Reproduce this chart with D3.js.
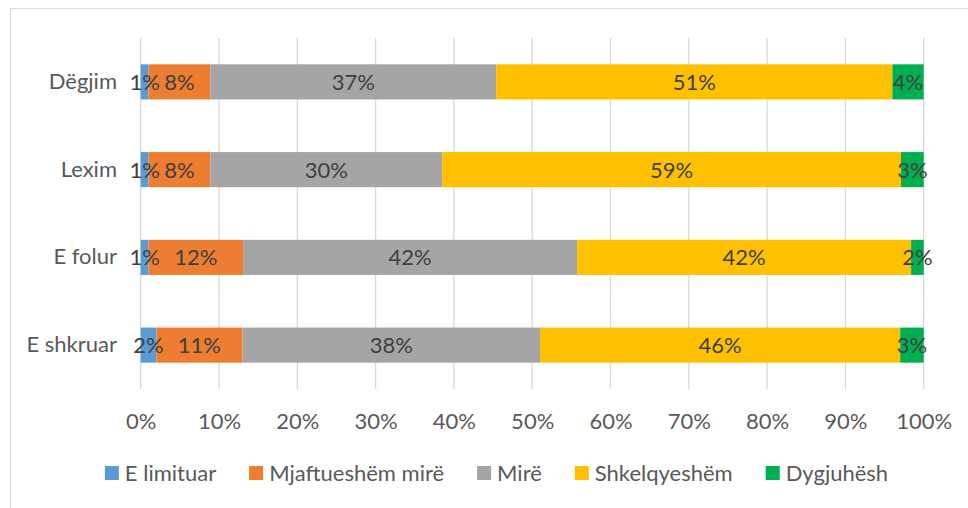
<!DOCTYPE html>
<html><head><meta charset="utf-8">
<script src="https://cdn.jsdelivr.net/npm/d3@7"></script>
<style>
html,body{margin:0;padding:0;background:#fff;}
svg{display:block;font-family:Lato,"Open Sans",sans-serif;}
</style></head>
<body>
<svg id="chart" width="968" height="508"></svg>
<script>
const categories = ["Dëgjim", "Lexim", "E folur", "E shkruar"];
const seriesNames = ["E limituar", "Mjaftueshëm mirë", "Mirë", "Shkelqyeshëm", "Dygjuhësh"];
const seriesColors = ["#5b9bd5", "#ed7d31", "#a5a5a5", "#ffc000", "#00b050"];
const eLimituar    = [1.0, 1.0, 1.0, 2.0];
const mjaftueshem  = [7.9, 7.9, 12.0, 11.0];
const mire         = [36.5, 29.6, 42.4, 38.0];
const shkelqyeshem = [50.6, 58.6, 42.4, 46.0];
const dygjuhesh    = [4.0, 2.9, 1.6, 3.0];
const tickValues = [0,10,20,30,40,50,60,70,80,90,100];

const seriesValues = [eLimituar, mjaftueshem, mire, shkelqyeshem, dygjuhesh];
const rows = categories.map((c,i)=>{
  const o = {cat:c};
  seriesNames.forEach((s,j)=>o[s]=seriesValues[j][i]);
  return o;
});

const FS = 22;
const svg = d3.select("#chart");
svg.append("rect").attr("x",10.5).attr("y",8.5).attr("width",1000).attr("height",600)
  .attr("fill","none").attr("stroke","#d9d9d9").attr("stroke-width",1);

const x = d3.scaleLinear().domain([0,100]).range([140.7, 923.7]);
const y = d3.scaleBand().domain(categories).range([38, 389]).paddingInner(0.6).paddingOuter(0.3);

svg.append("g").selectAll("line").data(tickValues).join("line")
  .attr("x1",d=>x(d)).attr("x2",d=>x(d)).attr("y1",38).attr("y2",389)
  .attr("stroke","#d9d9d9").attr("stroke-width",1.3);

// 100% stacked: normalise each row
const stack = d3.stack().keys(seriesNames).offset(d3.stackOffsetExpand)(rows);

const g = svg.append("g");
stack.forEach((layer,j)=>{
  g.append("g").selectAll("rect").data(layer).join("rect")
    .attr("x",d=>x(d[0]*100)).attr("width",d=>x(d[1]*100)-x(d[0]*100))
    .attr("y",d=>y(d.data.cat)).attr("height",y.bandwidth())
    .attr("fill",seriesColors[j]);
});
stack.forEach((layer,j)=>{
  const key = layer.key;
  g.append("g").selectAll("text").data(layer).join("text")
    .attr("x",d=>(x(d[0]*100)+x(d[1]*100))/2)
    .attr("y",d=>y(d.data.cat)+y.bandwidth()/2)
    .attr("dy","0.36em").attr("text-anchor","middle")
    .attr("font-size",FS).attr("fill","#404040")
    .text(d=>Math.round(d.data[key])+"%");
});

const xAxis = d3.axisBottom(x).tickValues(tickValues).tickFormat(d=>d+"%").tickSize(0).tickPadding(0);
const xa = svg.append("g").attr("transform","translate(0,421)").call(xAxis);
xa.select(".domain").remove();
xa.selectAll("text").attr("font-size",FS).attr("fill","#595959").attr("dy","0.36em")
  .attr("font-family","Lato, 'Open Sans', sans-serif");

const yAxis = d3.axisLeft(y).tickSize(0).tickPadding(0);
const ya = svg.append("g").attr("transform","translate(117,0)").call(yAxis);
ya.select(".domain").remove();
ya.selectAll("text").attr("font-size",FS).attr("fill","#595959")
  .attr("font-family","Lato, 'Open Sans', sans-serif");

const legend = svg.append("g").attr("transform","translate(0,473)");
let lx = 0;
seriesNames.forEach((s,j)=>{
  const it = legend.append("g");
  it.append("rect").attr("x",0).attr("y",-7).attr("width",14).attr("height",14).attr("fill",seriesColors[j]);
  const t = it.append("text").attr("x",20).attr("y",0).attr("dy","0.36em")
    .attr("font-size",FS).attr("fill","#595959").text(s);
  it.attr("transform",`translate(${lx},0)`);
  lx += 20 + t.node().getComputedTextLength() + 33;
});
const total = lx - 33;
legend.attr("transform",`translate(${496.5 - total/2},473)`);
</script>
</body></html>
